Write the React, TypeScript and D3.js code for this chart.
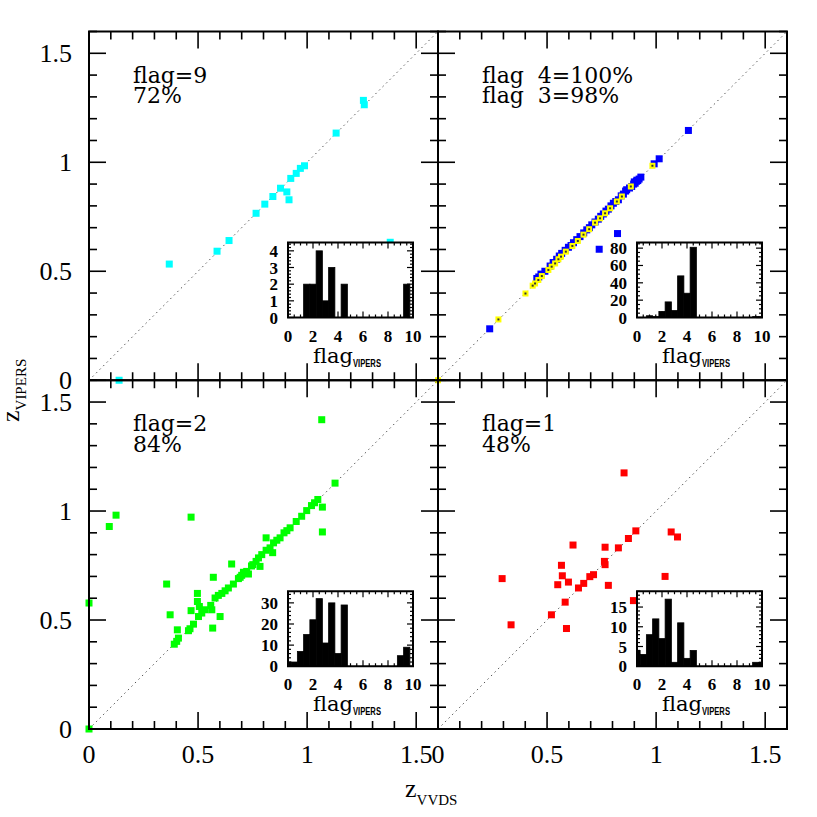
import React, { useEffect, useRef } from 'react';
import * as d3 from 'd3';

// [z_VVDS, z_VIPERS] pairs, one list per VVDS flag class
const flag9Points = [
  [1.258, 1.284], [1.262, 1.264], [1.133, 1.134], [0.988, 0.984], [0.969, 0.972],
  [0.95, 0.949], [0.925, 0.926], [0.907, 0.864], [0.917, 0.828], [0.878, 0.881],
  [0.843, 0.843], [0.806, 0.808], [0.766, 0.766], [0.642, 0.641], [0.587, 0.592],
  [0.368, 0.533], [1.381, 0.633], [0.138, 0.0],
];

const flag4Points = [
  [0.237, 0.236], [1.148, 1.146], [1.014, 1.016], [0.991, 0.993], [0.823, 0.673], [0.739, 0.601],
  [0.453, 0.467], [0.462, 0.474], [0.472, 0.487], [0.49, 0.5], [0.514, 0.524], [0.528, 0.54],
  [0.544, 0.555], [0.556, 0.57], [0.567, 0.582], [0.583, 0.596], [0.598, 0.61], [0.61, 0.618],
  [0.621, 0.631], [0.636, 0.645], [0.651, 0.659], [0.668, 0.676], [0.682, 0.69], [0.694, 0.7],
  [0.705, 0.713], [0.72, 0.726], [0.735, 0.739], [0.746, 0.752], [0.758, 0.763], [0.77, 0.776],
  [0.781, 0.785], [0.793, 0.8], [0.804, 0.812], [0.815, 0.82], [0.827, 0.828], [0.84, 0.846],
  [0.85, 0.854], [0.86, 0.868], [0.865, 0.874], [0.878, 0.882], [0.888, 0.889], [0.897, 0.9],
  [0.904, 0.904], [0.91, 0.913], [0.916, 0.916], [0.922, 0.923], [0.93, 0.932], [0.9, 0.91],
  [0.912, 0.918],
];

const flag3Points = [
  [0.277, 0.279], [0.401, 0.398], [0.434, 0.434], [0.445, 0.444], [0.46, 0.46], [0.476, 0.478],
  [0.506, 0.506], [0.521, 0.521], [0.537, 0.536], [0.552, 0.555], [0.564, 0.567], [0.586, 0.59],
  [0.616, 0.616], [0.641, 0.639], [0.667, 0.668], [0.693, 0.693], [0.72, 0.723], [0.743, 0.743],
  [0.766, 0.766], [0.789, 0.789], [0.82, 0.82], [0.843, 0.843], [0.884, 0.889], [0.983, 0.984],
  [0.0, 0.0],
];

const flag2Points = [
  [1.067, 1.419], [1.128, 1.128], [1.049, 1.053], [1.034, 1.038], [1.07, 1.018], [1.07, 0.904],
  [0.998, 1.002], [0.975, 0.976], [0.922, 0.923], [0.907, 0.91], [0.894, 0.9], [0.876, 0.877],
  [0.861, 0.866], [0.846, 0.854], [0.812, 0.877], [0.842, 0.809], [0.83, 0.831], [0.812, 0.82],
  [0.792, 0.8], [0.777, 0.785], [0.784, 0.746], [0.766, 0.769], [0.751, 0.754], [0.731, 0.711],
  [0.723, 0.723], [0.708, 0.719], [0.693, 0.696], [0.685, 0.69], [0.662, 0.665], [0.654, 0.757],
  [0.639, 0.647], [0.624, 0.634], [0.609, 0.622], [0.593, 0.613], [0.578, 0.601], [0.601, 0.516],
  [0.57, 0.696], [0.563, 0.547], [0.558, 0.567], [0.567, 0.463], [0.532, 0.547], [0.517, 0.532],
  [0.502, 0.516], [0.497, 0.585], [0.506, 0.562], [0.497, 0.622], [0.468, 0.543], [0.479, 0.481],
  [0.463, 0.46], [0.456, 0.451], [0.405, 0.455], [0.41, 0.417], [0.402, 0.402], [0.391, 0.389],
  [0.372, 0.524], [0.356, 0.665], [0.468, 0.972], [0.124, 0.981], [0.093, 0.929], [0.0, 0.578],
  [0.0, 0.0], [0.7, 0.705], [0.745, 0.748], [0.95, 0.952], [1.02, 1.025],
];

const flag1Points = [
  [0.853, 1.175], [0.907, 0.909], [0.873, 0.874], [1.069, 0.904], [1.098, 0.881], [0.827, 0.831],
  [0.766, 0.834], [0.619, 0.844], [0.763, 0.769], [0.766, 0.754], [0.713, 0.708], [0.696, 0.699],
  [0.668, 0.668], [0.644, 0.647], [0.781, 0.659], [0.598, 0.674], [0.566, 0.751], [0.57, 0.703],
  [0.549, 0.662], [1.041, 0.7], [0.294, 0.69], [0.583, 0.582], [0.52, 0.524], [0.335, 0.478],
  [0.589, 0.461], [0.896, 0.589],
];

// flag_VIPERS histograms, bins centred on these values (width 0.5)
const histBins = [0, 0.5, 1, 1.5, 2, 2.5, 3, 3.5, 4, 4.5, 5, 5.5, 6, 6.5, 7, 7.5, 8, 8.5, 9, 9.5, 10];
const hist9 = [0, 0, 0, 2, 2, 4, 1, 3, 0, 2, 0, 0, 0, 0, 0, 0, 0, 0, 0, 2, 0];
const hist34 = [0, 0, 2, 1, 7, 18, 8, 48, 28, 81, 0, 0, 0, 0, 0, 0, 0, 0, 0, 1, 1];
const hist2 = [2, 2, 7, 15, 22, 32, 11, 30, 6, 29, 0, 0, 0, 0, 0, 0, 0, 0, 5, 9, 0];
const hist1 = [4, 3, 8, 12, 7, 17, 1, 11, 2, 4, 0, 0, 0, 0, 0, 0, 0, 0, 0, 1, 1];

const mainTicks = [0, 0.5, 1, 1.5];
const mainTickLabels = ['0', '0.5', '1', '1.5'];
const histXTicks = [0, 2, 4, 6, 8, 10];

const panels = [
  { col: 0, row: 0, lines: ['flag=9', '72%'], sets: [{ pts: flag9Points, color: '#00ffff' }],
    hist: hist9, hMax: 4.5, hTicks: [0, 1, 2, 3, 4], hMinor: 0.2 },
  { col: 1, row: 0, lines: ['flag  4=100%', 'flag  3=98%'],
    sets: [{ pts: flag4Points, color: '#0000ff' }, { pts: flag3Points, color: '#ffff00', dot: true }],
    hist: hist34, hMax: 86.5, hTicks: [0, 20, 40, 60, 80], hMinor: 5 },
  { col: 0, row: 1, lines: ['flag=2', '84%'], sets: [{ pts: flag2Points, color: '#00ff00' }],
    hist: hist2, hMax: 35.5, hTicks: [0, 10, 20, 30], hMinor: 2 },
  { col: 1, row: 1, lines: ['flag=1', '48%'], sets: [{ pts: flag1Points, color: '#ff0000' }],
    hist: hist1, hMax: 19, hTicks: [0, 5, 10, 15], hMinor: 1 },
];

const SERIF = 'Liberation Serif, Times New Roman, serif';
const WIDE = 'DejaVu Serif, serif';

export default function App() {
  const svgRef = useRef<SVGSVGElement>(null);

  useEffect(() => {
    const svg = d3.select(svgRef.current);
    svg.selectAll('*').remove();

    const left = 89, right = 787, top = 31.5, bottom = 729;
    const pw = (right - left) / 2;
    const ph = (bottom - top) / 2;

    panels.forEach(p => {
      const x0 = left + p.col * pw;
      const y0 = top + p.row * ph;
      const x = d3.scaleLinear().domain([0, 1.6]).range([x0, x0 + pw]);
      const y = d3.scaleLinear().domain([0, 1.6]).range([y0 + ph, y0]);
      const g = svg.append('g');

      // ticks on all four sides
      const ticks = d3.range(0, 1.6001, 0.1);
      const isMajor = (v: number) => Math.abs(v * 2 - Math.round(v * 2)) < 1e-6;
      const tg = g.append('g').attr('stroke', '#000').attr('stroke-width', 1.6);
      ticks.forEach(v => {
        const len = isMajor(v) ? 17 : 8;
        tg.append('line').attr('x1', x(v)).attr('x2', x(v)).attr('y1', y(0)).attr('y2', y(0) - len);
        tg.append('line').attr('x1', x(v)).attr('x2', x(v)).attr('y1', y(1.6)).attr('y2', y(1.6) + len);
        tg.append('line').attr('y1', y(v)).attr('y2', y(v)).attr('x1', x(0)).attr('x2', x(0) + len);
        tg.append('line').attr('y1', y(v)).attr('y2', y(v)).attr('x1', x(1.6)).attr('x2', x(1.6) - len);
      });

      // one-to-one line
      g.append('line')
        .attr('x1', x(0)).attr('y1', y(0)).attr('x2', x(1.6)).attr('y2', y(1.6))
        .attr('stroke', '#555').attr('stroke-width', 1).attr('stroke-dasharray', '1.5,3.5');

      // points
      p.sets.forEach(s => {
        const sz = s.dot ? 6 : 7;
        g.append('g').selectAll('rect')
          .data(s.pts)
          .enter().append('rect')
          .attr('x', d => x(d[0]) - sz / 2)
          .attr('y', d => y(d[1]) - sz / 2)
          .attr('width', sz).attr('height', sz)
          .attr('fill', s.color);
        if (s.dot) {
          g.append('g').selectAll('rect')
            .data(s.pts)
            .enter().append('rect')
            .attr('x', d => x(d[0]) - 1)
            .attr('y', d => y(d[1]) - 1)
            .attr('width', 2).attr('height', 2)
            .attr('fill', '#333');
        }
      });

      // panel label
      const txt = g.append('g').attr('font-family', WIDE).attr('font-size', 22).attr('fill', '#000');
      p.lines.forEach((l, i) => {
        txt.append('text').attr('x', x0 + 44).attr('y', y0 + 51 + i * 20.5)
          .style('white-space', 'pre').text(l);
      });

      // inset histogram
      const ix0 = x0 + 199, iy0 = y0 + 211, iw = 125, ih = 75;
      const hx = d3.scaleLinear().domain([0, 10]).range([ix0, ix0 + iw]);
      const hy = d3.scaleLinear().domain([0, p.hMax]).range([iy0 + ih, iy0]);
      const ig = g.append('g');
      ig.append('rect').attr('x', ix0).attr('y', iy0).attr('width', iw).attr('height', ih).attr('fill', '#fff');
      ig.append('g').selectAll('rect')
        .data(histBins.map((b, i) => ({ b, c: p.hist[i] })).filter(d => d.c > 0))
        .enter().append('rect')
        .attr('x', d => hx(Math.max(0, d.b - 0.25)))
        .attr('width', d => hx(Math.min(10, d.b + 0.25)) - hx(Math.max(0, d.b - 0.25)))
        .attr('y', d => hy(d.c))
        .attr('height', d => hy(0) - hy(d.c))
        .attr('fill', '#000').attr('stroke', '#000').attr('stroke-width', 0.8);

      const itg = ig.append('g').attr('stroke', '#000').attr('stroke-width', 1.2);
      d3.range(0, 10.001, 0.5).forEach(v => {
        const len = Math.abs(v / 2 - Math.round(v / 2)) < 1e-6 ? 6 : 3;
        itg.append('line').attr('x1', hx(v)).attr('x2', hx(v)).attr('y1', iy0 + ih).attr('y2', iy0 + ih - len);
        itg.append('line').attr('x1', hx(v)).attr('x2', hx(v)).attr('y1', iy0).attr('y2', iy0 + len);
      });
      const hStep = p.hTicks[1];
      d3.range(0, p.hMax + 1e-6, p.hMinor).forEach(v => {
        const len = Math.abs(v / hStep - Math.round(v / hStep)) < 1e-6 ? 6 : 3;
        itg.append('line').attr('y1', hy(v)).attr('y2', hy(v)).attr('x1', ix0).attr('x2', ix0 + len);
        itg.append('line').attr('y1', hy(v)).attr('y2', hy(v)).attr('x1', ix0 + iw).attr('x2', ix0 + iw - len);
      });
      ig.append('rect').attr('x', ix0).attr('y', iy0).attr('width', iw).attr('height', ih)
        .attr('fill', 'none').attr('stroke', '#000').attr('stroke-width', 2);

      const il = ig.append('g').attr('font-family', SERIF).attr('font-weight', 'bold').attr('font-size', 17).attr('fill', '#000');
      histXTicks.forEach(v => {
        il.append('text').attr('x', hx(v)).attr('y', iy0 + ih + 24).attr('text-anchor', 'middle').text(v);
      });
      p.hTicks.forEach(v => {
        il.append('text').attr('x', ix0 - 10).attr('y', hy(v) + 6).attr('text-anchor', 'end').text(v);
      });
      const lab = ig.append('text').attr('x', ix0 + 25).attr('y', iy0 + ih + 45)
        .attr('font-family', WIDE).attr('font-size', 21).attr('fill', '#000');
      lab.append('tspan').text('flag');
      lab.append('tspan').attr('dy', 4).attr('font-family', 'Liberation Sans, Arial, sans-serif')
        .attr('font-weight', 'bold').attr('font-size', 11).attr('textLength', 28)
        .attr('lengthAdjust', 'spacingAndGlyphs').text('VIPERS');

      // outer panel frame
      g.append('rect').attr('x', x0).attr('y', y0).attr('width', pw).attr('height', ph)
        .attr('fill', 'none').attr('stroke', '#000').attr('stroke-width', 2);

      // axis tick labels on outer edges
      if (p.row === 1) {
        mainTicks.forEach((v, i) => {
          g.append('text').attr('x', x(v)).attr('y', 763).attr('text-anchor', 'middle')
            .attr('font-family', SERIF).attr('font-size', 26).text(mainTickLabels[i]);
        });
      }
      if (p.col === 0) {
        mainTicks.forEach((v, i) => {
          g.append('text').attr('x', 72).attr('y', y(v) + 9).attr('text-anchor', 'end')
            .attr('font-family', SERIF).attr('font-size', 26).text(mainTickLabels[i]);
        });
      }
    });

    // axis titles
    const xt = svg.append('text').attr('x', 405).attr('y', 797).attr('font-family', SERIF).attr('font-size', 26);
    xt.append('tspan').text('z');
    xt.append('tspan').attr('dy', 8).attr('font-size', 15).text('VVDS');

    const yt = svg.append('text').attr('transform', 'translate(19,422) rotate(-90)')
      .attr('font-family', SERIF).attr('font-size', 26);
    yt.append('tspan').text('z');
    yt.append('tspan').attr('dy', 7).attr('font-size', 15).text('VIPERS');
  }, []);

  return (
    <svg ref={svgRef} width={817} height={817}
      style={{ position: 'absolute', left: 0, top: 0, background: '#fff' }} />
  );
}
